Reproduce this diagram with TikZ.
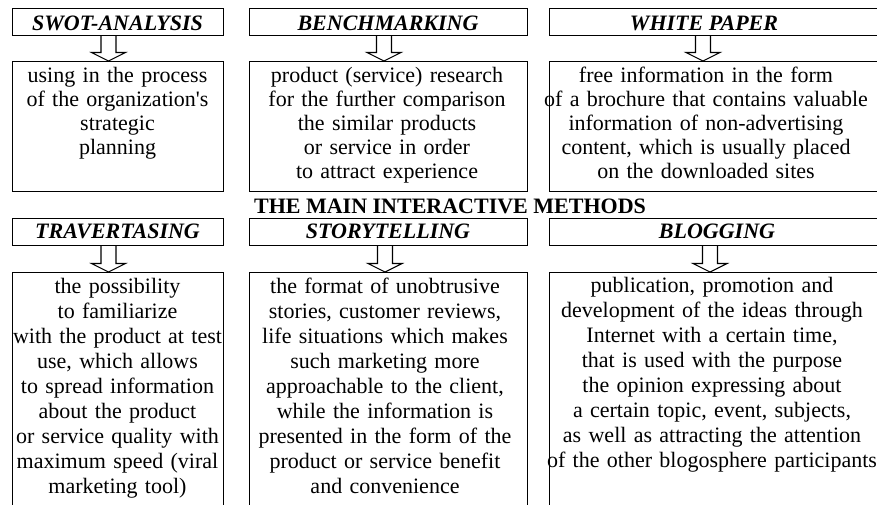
\documentclass[tikz,border=0pt]{standalone}
\usepackage{fontspec}
\setmainfont{Liberation Serif}
\usetikzlibrary{calc}
\newcommand\hollowarrow[3]{%
  \draw[arrowline] let \p1=(#2.south), \p2=(#3.north) in
    (#1pt-7.5pt,\y1) -- (#1pt-7.5pt,\y2+8.5pt) -- (#1pt-17pt,\y2+8.5pt) -- (#1pt,\y2)
    -- (#1pt+17pt,\y2+8.5pt) -- (#1pt+7.5pt,\y2+8.5pt) -- (#1pt+7.5pt,\y1);}
\begin{document}
\begin{tikzpicture}[x=1pt,y=-1pt,
  frame/.style={draw, line width=1.1pt, inner sep=0pt, anchor=north west},
  arrowline/.style={draw, line width=1.1pt, line join=miter},
  headtext/.style={font=\fontsize{22}{24}\selectfont\bfseries\itshape, anchor=base, inner sep=0pt},
  titletext/.style={font=\fontsize{22}{24}\selectfont\bfseries, anchor=base, inner sep=0pt},
  bodyone/.style={font=\fontsize{22}{24}\selectfont, anchor=base, inner sep=0pt, align=center, text width=400pt},
  bodytwo/.style={font=\fontsize{22}{25}\selectfont, anchor=base, inner sep=0pt, align=center, text width=400pt}]
\useasboundingbox (0,0) rectangle (877,504);
\clip (0,0) rectangle (877,504);
% row 1 headers
\node[frame, minimum width=211pt, minimum height=27pt] (h1) at (12,8) {};
\node[frame, minimum width=278pt, minimum height=27pt] (h2) at (249,8) {};
\node[frame, minimum width=400pt, minimum height=27pt] (h3) at (549,8) {};
\node[headtext] (t1) at (117.5,30) {SWOT-ANALYSIS};
\node[headtext] (t2) at (388,30) {BENCHMARKING};
\node[headtext] (t3) at (704,30) {WHITE PAPER};
% row 1 boxes
\node[frame, minimum width=211pt, minimum height=130pt] (b1) at (12,61) {};
\node[frame, minimum width=278pt, minimum height=130pt] (b2) at (249,61) {};
\node[frame, minimum width=400pt, minimum height=130pt] (b3) at (549,61) {};
\node[bodyone] (d1) at (117.5,82) {using in the process\\of the organization\textquotesingle s\\strategic\\planning};
\node[bodyone] (d2) at (387,82) {product (service) research\\for the further comparison\\the similar products\\or service in order\\to attract experience};
\node[bodyone] (d3) at (706,82) {free information in the form\\of a brochure that contains valuable\\information of non-advertising\\content, which is usually placed\\on the downloaded sites};
\hollowarrow{108.5}{h1}{b1}
\hollowarrow{384}{h2}{b2}
\hollowarrow{703}{h3}{b3}
% title
\node[titletext] (title) at (450,213) {THE MAIN INTERACTIVE METHODS};
% row 2 headers
\node[frame, minimum width=211pt, minimum height=27pt] (h4) at (12,218) {};
\node[frame, minimum width=278pt, minimum height=27pt] (h5) at (249,218) {};
\node[frame, minimum width=400pt, minimum height=27pt] (h6) at (549,218) {};
\node[headtext] (t4) at (117.5,238) {TRAVERTASING};
\node[headtext] (t5) at (388,238) {STORYTELLING};
\node[headtext] (t6) at (717,238) {BLOGGING};
% row 2 boxes
\node[frame, minimum width=211pt, minimum height=250pt] (b4) at (12,272) {};
\node[frame, minimum width=278pt, minimum height=250pt] (b5) at (249,272) {};
\node[frame, minimum width=400pt, minimum height=250pt] (b6) at (549,272) {};
\node[bodytwo] (d4) at (117.5,293) {the possibility\\to familiarize\\with the product at test\\use, which allows\\to spread information\\about the product\\or service quality with\\maximum speed (viral\\marketing tool)};
\node[bodytwo] (d5) at (385,293) {the format of unobtrusive\\stories, customer reviews,\\life situations which makes\\such marketing more\\approachable to the client,\\while the information is\\presented in the form of the\\product or service benefit\\and convenience};
\node[bodytwo] (d6) at (712,292) {publication, promotion and\\development of the ideas through\\Internet with a certain time,\\that is used with the purpose\\the opinion expressing about\\a certain topic, event, subjects,\\as well as attracting the attention\\of the other blogosphere participants};
\hollowarrow{108.5}{h4}{b4}
\hollowarrow{385}{h5}{b5}
\hollowarrow{710}{h6}{b6}
\end{tikzpicture}
\end{document}
